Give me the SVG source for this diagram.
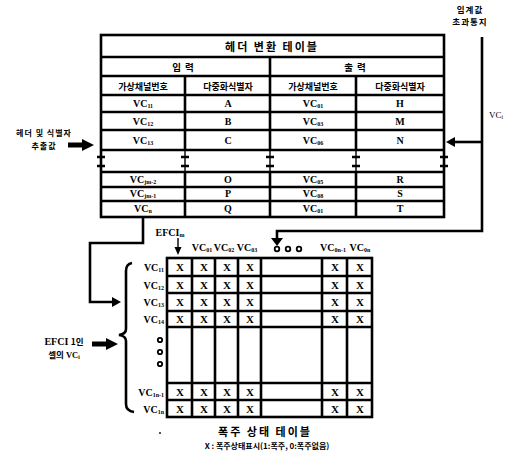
<svg xmlns="http://www.w3.org/2000/svg" width="511" height="453" viewBox="0 0 511 453">
<style>
.bg{fill:#fff}
.ln{stroke:#000;stroke-width:2.6;fill:none}
.thin{stroke:#000;stroke-width:1.4;fill:none}
.ko{font-family:"Noto Sans CJK KR","Noto Sans",sans-serif;font-weight:bold;fill:#000}
.vc{font-family:"Liberation Serif",serif;font-weight:bold;font-size:10px;fill:#000}
.sub{font-size:6px}
.x{font-family:"Liberation Serif",serif;font-weight:bold;font-size:11px;fill:#000}
.dot{fill:none;stroke:#000;stroke-width:1.8}
</style>
<rect class="bg" width="511" height="453"/>

<g id="header-table">
<rect class="ln" x="101" y="35" width="343" height="182" stroke-width="3"/>
<path class="ln" d="M101,57H444M101,76H444M101,95H444M101,112H444M101,130H444M101,150H444M101,172H444M101,187H444M101,201H444"/>
<path class="ln" d="M270,57V150M270,172V217M185,76V150M185,172V217M356,76V150M356,172V217"/>
<path class="thin" d="M101,150V172M185,150V172M270,150V172M356,150V172M444,150V172"/>
<path class="ln" d="M97,157h8M97,166h8M181,157h8M181,166h8M266,157h8M266,166h8M352,157h8M352,166h8M440,157h8M440,166h8"/>
<text class="ko" x="272" y="51" font-size="11" text-anchor="middle" letter-spacing="2">헤더 변환 테이블</text>
<text class="ko" x="185" y="71" font-size="9.5" text-anchor="middle" letter-spacing="4">입력</text>
<text class="ko" x="357" y="71" font-size="9.5" text-anchor="middle" letter-spacing="4">출력</text>
<text class="ko" x="143" y="90" font-size="9" text-anchor="middle">가상채널번호</text>
<text class="ko" x="228" y="90" font-size="9" text-anchor="middle">다중화식별자</text>
<text class="ko" x="313" y="90" font-size="9" text-anchor="middle">가상채널번호</text>
<text class="ko" x="400" y="90" font-size="9" text-anchor="middle">다중화식별자</text>
<text class="vc" x="143" y="107" text-anchor="middle">VC<tspan class="sub" dy="1">11</tspan></text>
<text class="vc" x="143" y="125" text-anchor="middle">VC<tspan class="sub" dy="1">12</tspan></text>
<text class="vc" x="143" y="144" text-anchor="middle">VC<tspan class="sub" dy="1">13</tspan></text>
<text class="vc" x="143" y="183" text-anchor="middle">VC<tspan class="sub" dy="1">jm-2</tspan></text>
<text class="vc" x="143" y="197" text-anchor="middle">VC<tspan class="sub" dy="1">jm-1</tspan></text>
<text class="vc" x="143" y="212" text-anchor="middle">VC<tspan class="sub" dy="1">n</tspan></text>
<text class="vc" x="228" y="107" text-anchor="middle">A</text>
<text class="vc" x="228" y="125" text-anchor="middle">B</text>
<text class="vc" x="228" y="144" text-anchor="middle">C</text>
<text class="vc" x="228" y="183" text-anchor="middle">O</text>
<text class="vc" x="228" y="197" text-anchor="middle">P</text>
<text class="vc" x="228" y="212" text-anchor="middle">Q</text>
<text class="vc" x="313" y="107" text-anchor="middle">VC<tspan class="sub" dy="1">01</tspan></text>
<text class="vc" x="313" y="125" text-anchor="middle">VC<tspan class="sub" dy="1">03</tspan></text>
<text class="vc" x="313" y="144" text-anchor="middle">VC<tspan class="sub" dy="1">06</tspan></text>
<text class="vc" x="313" y="183" text-anchor="middle">VC<tspan class="sub" dy="1">05</tspan></text>
<text class="vc" x="313" y="197" text-anchor="middle">VC<tspan class="sub" dy="1">08</tspan></text>
<text class="vc" x="313" y="212" text-anchor="middle">VC<tspan class="sub" dy="1">01</tspan></text>
<text class="vc" x="400" y="107" text-anchor="middle">H</text>
<text class="vc" x="400" y="125" text-anchor="middle">M</text>
<text class="vc" x="400" y="144" text-anchor="middle">N</text>
<text class="vc" x="400" y="183" text-anchor="middle">R</text>
<text class="vc" x="400" y="197" text-anchor="middle">S</text>
<text class="vc" x="400" y="212" text-anchor="middle">T</text>
</g>

<g id="input-label">
<text class="ko" x="44" y="136" font-size="8" text-anchor="middle" letter-spacing="1">헤더 및 식별자</text>
<text class="ko" x="44" y="149" font-size="8" text-anchor="middle" letter-spacing="1">추출값</text>
<path d="M68,142.5H82V139L94,145L82,151V147.5H68z" fill="#000"/>
</g>

<g id="threshold-label">
<text class="ko" x="470" y="13" font-size="8.5" text-anchor="middle" letter-spacing="1">임계값</text>
<text class="ko" x="470" y="25" font-size="8.5" text-anchor="middle" letter-spacing="1">초과통지</text>
<text x="489" y="118" font-family="Liberation Serif,serif" font-size="9" fill="#000">VC<tspan font-size="5.5" dy="1">i</tspan></text>
</g>

<g id="connectors">
<path class="ln" d="M482,37V231H277V238"/>
<path d="M271,238H283L277,246z" fill="#000"/>
<path class="ln" d="M482,142H455"/>
<path d="M455,137V147L446,142z" fill="#000"/>
<path class="ln" d="M143,217V243H90V302H112"/>
<path d="M112,297V307L121,302z" fill="#000"/>
<path class="thin" d="M178,238V248"/>
<path d="M174.5,247H181.5L178,255z" fill="#000"/>
<path d="M92,341.5H106V338L118,344L106,350V346.5H92z" fill="#000"/>
</g>

<g id="congestion-table">
<rect class="ln" x="167" y="258" width="205" height="159" stroke-width="3"/>
<path class="ln" d="M167,276H372M167,293H372M167,311H372M167,327H372M167,383H372M167,400H372"/>
<path class="ln" d="M192,258V417M215,258V417M238,258V417M261,258V417M322,258V417M347,258V417"/>
<text class="vc" x="170" y="236" text-anchor="middle">EFCI<tspan class="sub" dy="1">m</tspan></text>
<text class="vc" x="202" y="251" font-size="8.5" text-anchor="middle">VC<tspan class="sub" dy="1">01</tspan></text>
<text class="vc" x="224" y="251" font-size="8.5" text-anchor="middle">VC<tspan class="sub" dy="1">02</tspan></text>
<text class="vc" x="247" y="251" font-size="8.5" text-anchor="middle">VC<tspan class="sub" dy="1">03</tspan></text>
<circle class="dot" cx="277" cy="249" r="2.3"/>
<circle class="dot" cx="288" cy="249" r="2.3"/>
<circle class="dot" cx="299" cy="249" r="2.3"/>
<text class="vc" x="333" y="251" font-size="8.5" text-anchor="middle">VC<tspan class="sub" dy="1">0n-1</tspan></text>
<text class="vc" x="360" y="251" font-size="8.5" text-anchor="middle">VC<tspan class="sub" dy="1">0n</tspan></text>
<text class="vc" x="164" y="271" text-anchor="end">VC<tspan class="sub" dy="1">11</tspan></text>
<text class="vc" x="164" y="289" text-anchor="end">VC<tspan class="sub" dy="1">12</tspan></text>
<text class="vc" x="164" y="306" text-anchor="end">VC<tspan class="sub" dy="1">13</tspan></text>
<text class="vc" x="164" y="323" text-anchor="end">VC<tspan class="sub" dy="1">14</tspan></text>
<circle class="dot" cx="160" cy="340" r="2.2"/>
<circle class="dot" cx="160" cy="352" r="2.2"/>
<circle class="dot" cx="160" cy="364" r="2.2"/>
<text class="vc" x="164" y="396" text-anchor="end">VC<tspan class="sub" dy="1">1n-1</tspan></text>
<text class="vc" x="164" y="413" text-anchor="end">VC<tspan class="sub" dy="1">1n</tspan></text>
<g class="x" text-anchor="middle">
<text x="180" y="271">X</text><text x="204" y="271">X</text><text x="227" y="271">X</text><text x="250" y="271">X</text><text x="335" y="271">X</text><text x="360" y="271">X</text>
<text x="180" y="289">X</text><text x="204" y="289">X</text><text x="227" y="289">X</text><text x="250" y="289">X</text><text x="335" y="289">X</text><text x="360" y="289">X</text>
<text x="180" y="306">X</text><text x="204" y="306">X</text><text x="227" y="306">X</text><text x="250" y="306">X</text><text x="335" y="306">X</text><text x="360" y="306">X</text>
<text x="180" y="323">X</text><text x="204" y="323">X</text><text x="227" y="323">X</text><text x="250" y="323">X</text><text x="335" y="323">X</text><text x="360" y="323">X</text>
<text x="180" y="396">X</text><text x="204" y="396">X</text><text x="227" y="396">X</text><text x="250" y="396">X</text><text x="335" y="396">X</text><text x="360" y="396">X</text>
<text x="180" y="413">X</text><text x="204" y="413">X</text><text x="227" y="413">X</text><text x="250" y="413">X</text><text x="335" y="413">X</text><text x="360" y="413">X</text>
</g>
<text class="ko" x="265" y="436" font-size="11" text-anchor="middle" letter-spacing="2">폭주 상태 테이블</text>
<text class="ko" x="267" y="449" font-size="8" text-anchor="middle">X : 폭주상태표시(1:폭주, 0:폭주없음)</text>
<circle cx="160" cy="433" r="0.9" fill="#000"/>
</g>

<g id="brace">
<path class="ln" stroke-width="2.2" d="M132,263Q126,264 126,271V329Q126,334 119,335Q126,336 126,341V404Q126,411 134,412"/>
</g>

<g id="efci-label">
<text class="vc" x="64" y="345" font-size="9" font-weight="normal" text-anchor="middle">EFCI <tspan font-family="Noto Sans CJK KR,sans-serif" font-size="8.5">1인</tspan></text>
<text class="ko" x="64" y="358" font-size="8.5" text-anchor="middle">셀의 <tspan font-family="Liberation Serif,serif">VC</tspan><tspan font-family="Liberation Serif,serif" font-size="5.5" dy="1">i</tspan></text>
</g>
</svg>
